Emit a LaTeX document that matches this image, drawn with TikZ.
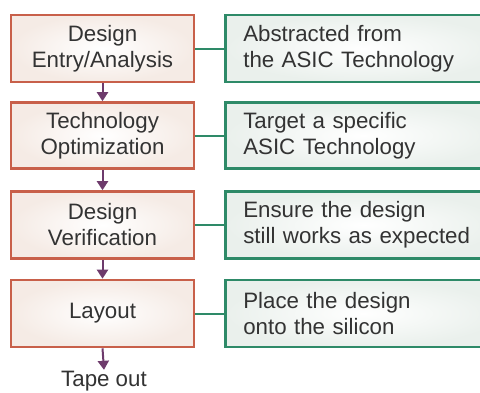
\documentclass[tikz,border=0pt]{standalone}
\usepackage{fontspec}
\setmainfont{Liberation Sans}
\usetikzlibrary{arrows.meta}
\definecolor{stepedge}{HTML}{C8604A}
\definecolor{stepfill}{HTML}{F5EBE5}
\definecolor{noteedge}{HTML}{2E8A68}
\definecolor{notefill}{HTML}{EAF0EC}
\definecolor{flowarrow}{HTML}{6E3B6C}
\definecolor{ink}{HTML}{333333}
\tikzset{
  stepbox/.style={draw=stepedge, line width=2.6pt, inner color=white, outer color=stepfill,
    minimum width=183pt, minimum height=67pt, align=center, text=ink,
    font=\fontsize{22.3}{26}\selectfont},
  notebox/.style={draw=noteedge, line width=2.6pt, inner color=white, outer color=notefill,
    anchor=west, text width=240pt, inner xsep=18pt, minimum height=67pt, align=left, text=ink,
    font=\fontsize{22.3}{26}\selectfont},
  link/.style={draw=noteedge, line width=2pt},
  flow/.style={draw=flowarrow, line width=2pt, -{Triangle[length=9pt,width=11pt]}}
}
\begin{document}
\begin{tikzpicture}[x=1pt,y=-1pt]
\clip (0,0) rectangle (480,392);
\fill[white] (0,0) rectangle (480,392);
% process steps
\node[stepbox] (s1) at (102.5,48.5) {Design\\Entry/Analysis};
\node[stepbox, minimum height=66pt] (s2) at (102.5,135.5) {Technology\\Optimization};
\node[stepbox] (s3) at (102.5,225) {Design\\Verification};
\node[stepbox] (s4) at (102.5,313.5) {Layout};
\node[text=ink, font=\fontsize{22.3}{26}\selectfont, inner sep=1pt] (out) at (104,381) {Tape out};
% notes
\node[notebox] (n1) at (224,48.5) {Abstracted from\\the ASIC Technology};
\node[notebox, minimum height=66pt] (n2) at (224,135.5) {Target a specific\\ASIC Technology};
\node[notebox] (n3) at (224,225) {Ensure the design\\still works as expected};
\node[notebox] (n4) at (224,313.5) {Place the design\\onto the silicon};
% links between steps and notes
\draw[link] (s1.east) -- (n1.west);
\draw[link] (s2.east) -- (n2.west);
\draw[link] (s3.east) -- (n3.west);
\draw[link] (s4.east) -- (n4.west);
% flow arrows
\draw[flow] (s1.south) -- (s2.north);
\draw[flow] (s2.south) -- (s3.north);
\draw[flow] (s3.south) -- (s4.north);
\draw[flow] (s4.south) -- (out.north);
\end{tikzpicture}
\end{document}
